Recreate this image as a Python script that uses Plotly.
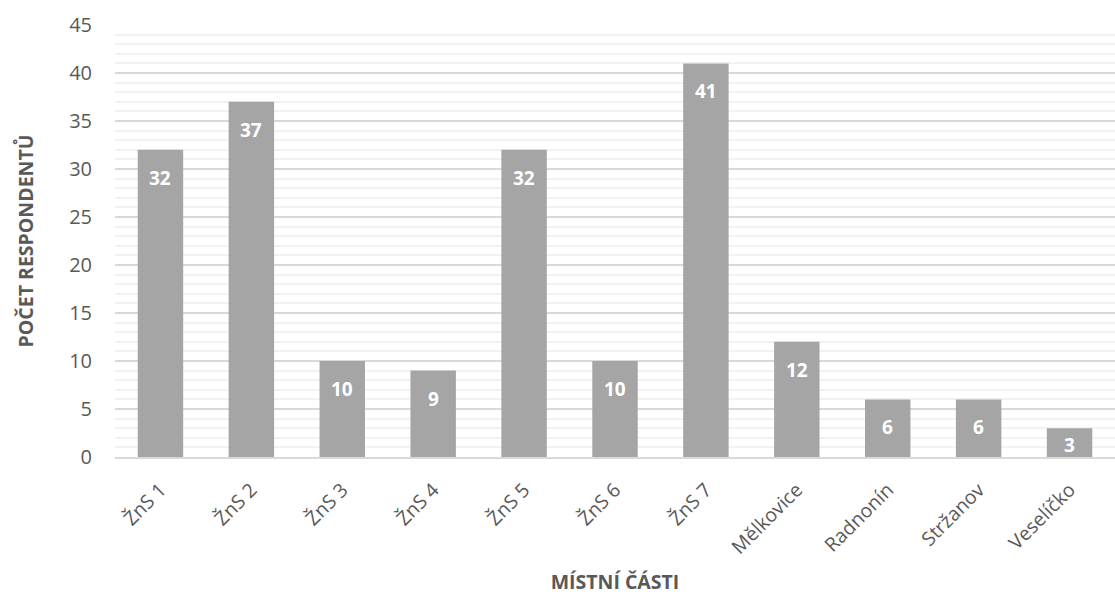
import plotly.graph_objects as go

casti = ["ŽnS 1", "ŽnS 2", "ŽnS 3", "ŽnS 4", "ŽnS 5", "ŽnS 6", "ŽnS 7",
         "Mělkovice", "Radnonín", "Stržanov", "Veselíčko"]
respondenti = [32, 37, 10, 9, 32, 10, 41, 12, 6, 6, 3]

FONT = "Open Sans"
GREY_TXT = "#595959"

# plot-area geometry used to place the value labels inside the bar tops
H_PLOT = 432
Y_MAX = 45
px_per_unit = H_PLOT / Y_MAX

fig = go.Figure(go.Bar(
    x=casti, y=respondenti,
    marker=dict(color="#A5A5A5", line=dict(width=0)),
    hoverinfo="x+y",
))

for c, v in zip(casti, respondenti):
    h = v * px_per_unit
    shift = min(28, max(h - 12, h / 2))
    fig.add_annotation(x=c, y=v, text=f"<b>{v}</b>", showarrow=False,
                       yanchor="middle", yshift=-shift,
                       font=dict(family=FONT, size=19, color="white"))

fig.update_layout(
    width=1115, height=595,
    margin=dict(l=115, r=0, t=25, b=138),
    paper_bgcolor="white", plot_bgcolor="white",
    bargap=0.5,
    showlegend=False,
    font=dict(family=FONT, color=GREY_TXT),
    xaxis=dict(
        tickangle=-45, tickfont=dict(size=19.5, color=GREY_TXT),
        ticklabelstandoff=12,
        showline=True, linecolor="#d9d9d9", linewidth=1.5,
        ticks="", showgrid=False,
        title=dict(text="<b>MÍSTNÍ ČÁSTI</b>", font=dict(size=19.5, color=GREY_TXT), standoff=22),
    ),
    yaxis=dict(
        range=[0, Y_MAX], dtick=5, tick0=0,
        tickfont=dict(size=20, color=GREY_TXT),
        ticklabelstandoff=22,
        showgrid=True, gridcolor="#d9d9d9", gridwidth=1.5,
        minor=dict(dtick=1, showgrid=True, gridcolor="#f2f2f2", gridwidth=1.5),
        zeroline=False, ticks="", ticklen=0,
        title=dict(text="<b>POČET RESPONDENTŮ</b>", font=dict(size=19.5, color=GREY_TXT), standoff=30),
    ),
)

fig.write_html("out.html")
